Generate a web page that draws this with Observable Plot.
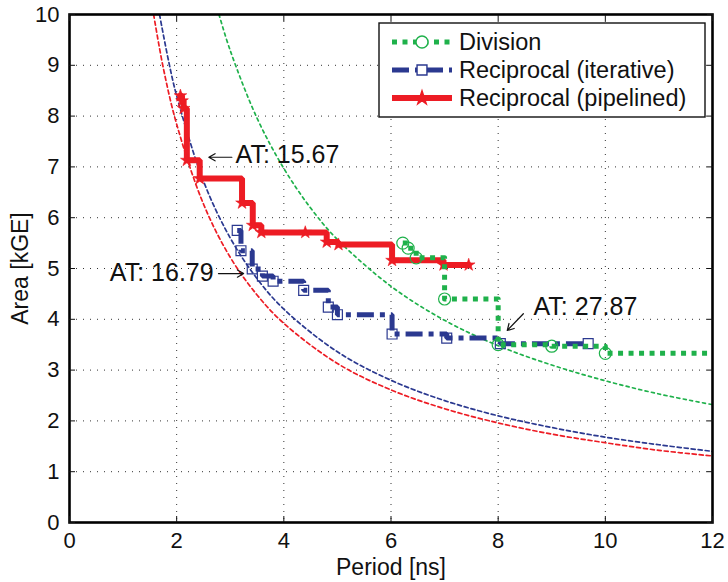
<!DOCTYPE html>
<html><head><meta charset="utf-8">
<script src="https://cdn.jsdelivr.net/npm/d3@7"></script>
<script src="https://cdn.jsdelivr.net/npm/@observablehq/plot@0.6"></script>
<style>body{margin:0;background:#fff} #chart{width:728px;height:582px}</style>
</head><body><div id="chart"></div>
<script>
// ---- data ----
const xTicks = [0, 2, 4, 6, 8, 10, 12];
const yTicks = [0, 1, 2, 3, 4, 5, 6, 7, 8, 9, 10];
const xLabel = "Period [ns]";
const yLabel = "Area [kGE]";
const seriesNames = ["Division", "Reciprocal (iterative)", "Reciprocal (pipelined)"];

// Division (green, dotted, circles)
const divPeriod = [6.22, 6.32, 6.47, 7.00, 8.00, 9.00, 10.00, 12.00];
const divArea   = [5.50, 5.40, 5.21, 4.40, 3.50, 3.47, 3.33, 3.33];
// Reciprocal iterative (blue, dash-dot, squares)
const itPeriod = [3.13, 3.20, 3.41, 3.60, 3.80, 4.37, 4.83, 5.00, 6.02, 7.04, 8.04, 9.68];
const itArea   = [5.75, 5.35, 4.99, 4.85, 4.75, 4.57, 4.24, 4.09, 3.71, 3.63, 3.52, 3.52];
// Reciprocal pipelined (red, solid, stars)
const pipPeriod = [2.07, 2.10, 2.13, 2.19, 2.43, 3.22, 3.42, 3.58, 4.40, 4.80, 5.02, 6.02, 6.98, 7.45];
const pipArea   = [8.40, 8.30, 8.15, 7.13, 6.77, 6.29, 5.85, 5.71, 5.71, 5.52, 5.47, 5.16, 5.07, 5.07];

// constant-AT curves
const atGreenPeriod = [2.79, 3.0, 3.5, 4.0, 4.5, 5.0, 6.0, 7.0, 8.0, 9.0, 10.0, 11.0, 12.0];
const atGreenArea   = [10.0, 9.29, 7.96, 6.97, 6.19, 5.57, 4.65, 3.98, 3.48, 3.10, 2.79, 2.53, 2.32];
const atBluePeriod = [1.68, 1.85, 2.0, 2.5, 3.0, 3.5, 4.0, 5.0, 6.0, 7.0, 8.0, 9.0, 10.0, 11.0, 12.0];
const atBlueArea   = [10.0, 9.08, 8.40, 6.72, 5.60, 4.80, 4.20, 3.36, 2.80, 2.40, 2.10, 1.87, 1.68, 1.53, 1.40];
const atRedPeriod = [1.57, 1.75, 2.0, 2.5, 3.0, 3.5, 4.0, 5.0, 6.0, 7.0, 8.0, 9.0, 10.0, 11.0, 12.0];
const atRedArea   = [10.0, 8.95, 7.84, 6.27, 5.22, 4.48, 3.92, 3.13, 2.61, 2.24, 1.96, 1.74, 1.57, 1.42, 1.31];

// annotations
const annoText = ["AT: 15.67", "AT: 16.79", "AT: 27.87"];
const annoX = [3.10, 2.69, 8.66];
const annoY = [7.23, 4.91, 4.24];
const annoAnchor = ["start", "end", "start"];
const arrowX1 = [3.03, 2.78, 8.47];
const arrowY1 = [7.19, 4.90, 4.11];
const arrowX2 = [2.60, 3.25, 8.17];
const arrowY2 = [7.19, 4.90, 3.78];

// ---- styles ----
const GREEN = "#1fb14b", BLUE = "#2b3990", RED = "#ed1c24";
const FONT = "'Liberation Sans', Arial, Helvetica, sans-serif";

const rows = (xs, ys) => xs.map((x, i) => ({x, y: ys[i]}));
const div = rows(divPeriod, divArea);
const it = rows(itPeriod, itArea);
const pip = rows(pipPeriod, pipArea);
const atG = rows(atGreenPeriod, atGreenArea);
const atB = rows(atBluePeriod, atBlueArea);
const atR = rows(atRedPeriod, atRedArea);
const annos = annoText.map((t, i) => ({t, x: annoX[i], y: annoY[i], a: annoAnchor[i]}));
const arrows = arrowX1.map((x1, i) => ({x1, y1: arrowY1[i], x2: arrowX2[i], y2: arrowY2[i]}));

const grid = {stroke: "#333", strokeOpacity: 1, strokeWidth: 1, strokeDasharray: "1,6"};
const fmt = d => String(d);

const svg = Plot.plot({
  width: 728, height: 582,
  marginLeft: 69, marginRight: 16, marginTop: 14, marginBottom: 60,
  style: {fontFamily: FONT, background: "#fff", color: "#111"},
  x: {domain: [0, 12]},
  y: {domain: [0, 10]},
  marks: [
    Plot.gridX(xTicks, grid),
    Plot.gridY(yTicks, grid),
    Plot.line(atG, {x: "x", y: "y", curve: "catmull-rom", stroke: GREEN, strokeWidth: 1.7, strokeDasharray: "3,3.5", clip: true}),
    Plot.line(atB, {x: "x", y: "y", curve: "catmull-rom", stroke: BLUE, strokeWidth: 1.7, strokeDasharray: "4,3", clip: true}),
    Plot.line(atR, {x: "x", y: "y", curve: "catmull-rom", stroke: RED, strokeWidth: 1.7, strokeDasharray: "4,3", clip: true}),
    Plot.line(pip, {x: "x", y: "y", curve: "step-after", stroke: RED, strokeWidth: 6, strokeLinejoin: "miter", clip: true}),
    Plot.dot(pip, {x: "x", y: "y", symbol: "star", r: 4, fill: RED, stroke: RED, strokeWidth: 0.6}),
    Plot.line(it, {x: "x", y: "y", curve: "step-after", stroke: BLUE, strokeWidth: 5, strokeDasharray: "17,6,5,6", strokeLinecap: "butt", strokeLinejoin: "miter", clip: true}),
    Plot.dot(it, {x: "x", y: "y", symbol: "square", r: 5.6, fill: "none", stroke: BLUE, strokeWidth: 1.2}),
    Plot.line(div, {x: "x", y: "y", curve: "step-after", stroke: GREEN, strokeWidth: 5, strokeDasharray: "5,5.5", strokeLinecap: "butt", clip: true}),
    Plot.dot(div.filter(d => d.x < 12), {x: "x", y: "y", symbol: "circle", r: 6, fill: "none", stroke: GREEN, strokeWidth: 1.2}),
    Plot.arrow(arrows, {x1: "x1", y1: "y1", x2: "x2", y2: "y2", stroke: "#111", strokeWidth: 1.2, headLength: 9}),
    Plot.text(annos.filter(d => d.a === "start"), {x: "x", y: "y", text: "t", textAnchor: "start", fontSize: 25, fill: "#111"}),
    Plot.text(annos.filter(d => d.a === "end"), {x: "x", y: "y", text: "t", textAnchor: "end", fontSize: 25, fill: "#111"}),
    Plot.frame({stroke: "#000", strokeWidth: 2.6}),
    Plot.axisX(xTicks, {tickSize: 0, tickPadding: 10, fontSize: 22, tickFormat: fmt, label: null}),
    Plot.axisY(yTicks, {tickSize: 0, tickPadding: 10, fontSize: 22, tickFormat: fmt, label: null}),
    Plot.axisX(xTicks, {anchor: "bottom", tickSize: -6, tickFormat: () => "", label: null}),
    Plot.axisX(xTicks, {anchor: "top", tickSize: -6, tickFormat: () => "", label: null}),
    Plot.axisY(yTicks, {anchor: "left", tickSize: -6, tickFormat: () => "", label: null}),
    Plot.axisY(yTicks, {anchor: "right", tickSize: -6, tickFormat: () => "", label: null}),
    Plot.text([xLabel], {text: d => d, frameAnchor: "bottom", dy: 45, textAnchor: "middle", lineAnchor: "middle", fontSize: 23, fill: "#111"}),
    Plot.text([yLabel], {text: d => d, frameAnchor: "left", dx: -49, rotate: -90, textAnchor: "middle", lineAnchor: "middle", fontSize: 23, fill: "#111"})
  ]
});

// ---- legend ----
const legendColors = [GREEN, BLUE, RED];
const legendDash = ["5,5.5", "17,6,5,6", null];
const legendWidth = [5, 5, 6];
const legendSymbols = [d3.symbolCircle, d3.symbolSquare, d3.symbolStar];
const legendSymSize = [113, 98, 60];
const legendFill = ["#fff", "#fff", RED];

const lg = d3.select(svg).append("g").attr("font-family", FONT).attr("font-size", 23.5)
  .attr("text-anchor", "start");
lg.append("rect").attr("x", 379).attr("y", 23).attr("width", 326).attr("height", 94)
  .attr("fill", "#fff").attr("stroke", "#111").attr("stroke-width", 1.4);
seriesNames.forEach((name, i) => {
  const cy = 42 + i * 28;
  lg.append("line").attr("x1", 392).attr("x2", 452).attr("y1", cy).attr("y2", cy)
    .attr("stroke", legendColors[i]).attr("stroke-width", legendWidth[i])
    .attr("stroke-dasharray", legendDash[i]);
  lg.append("path").attr("transform", `translate(422,${cy})`)
    .attr("d", d3.symbol(legendSymbols[i], legendSymSize[i])())
    .attr("fill", legendFill[i]).attr("stroke", legendColors[i]).attr("stroke-width", 1.4);
  lg.append("text").attr("x", 459).attr("y", cy).attr("dy", "0.36em")
    .attr("text-anchor", "start").attr("fill", "#111").text(name);
});

document.getElementById("chart").appendChild(svg);
</script>
</body></html>
